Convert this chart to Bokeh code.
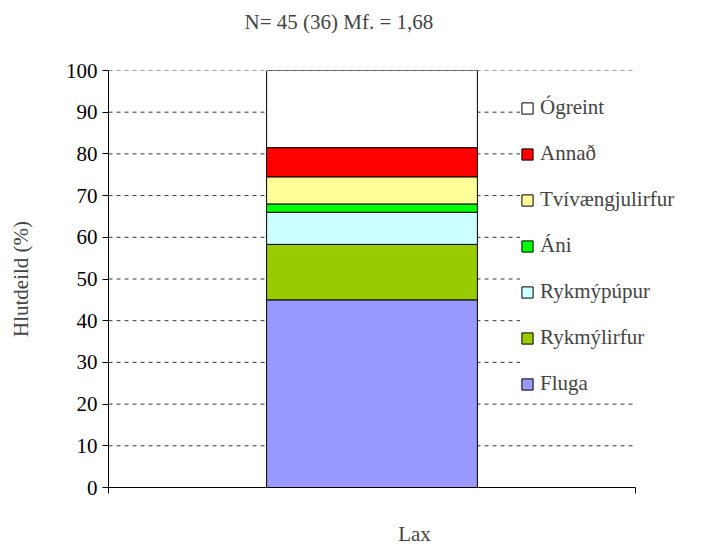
from bokeh.plotting import figure
from bokeh.models import Legend, LegendItem, FixedTicker, Title
from bokeh.embed import file_html
from bokeh.resources import INLINE

species = ["Lax"]
groups = ["Fluga", "Rykmýlirfur", "Rykmýpúpur", "Áni", "Tvívængjulirfur", "Annað", "Ógreint"]
shares = [45.0, 13.3, 7.7, 2.0, 6.5, 7.0, 18.5]
colors = ["#9999FF", "#99CC00", "#CCFFFF", "#00FF00", "#FFFF99", "#FF0000", "#FFFFFF"]
y_ticks = list(range(0, 101, 10))

FONT = "Liberation Serif"
FS = "21px"

# frame runs to the right edge so the legend is not clipped; data x=1 sits at the axis end
p = figure(width=720, height=548, x_range=(0, 612 / 527), y_range=(0, 100),
           output_backend="svg", toolbar_location=None,
           min_border_left=108, min_border_right=0, min_border_top=70, min_border_bottom=55)
p.outline_line_color = None
p.grid.visible = False

# dashed gridlines only across the axis width
p.segment(x0=[0] * len(y_ticks), x1=[1] * len(y_ticks), y0=y_ticks, y1=y_ticks,
          line_color="black", line_dash="4 4", line_width=0.8)

renderers = []
bottom = 0
for name, v, c in zip(groups, shares, colors):
    r = p.vbar(x=[0.5], bottom=[bottom], top=[bottom + v], width=0.4,
               fill_color=c, line_color="black", line_width=1)
    renderers.append((name, r))
    bottom += v

p.yaxis.ticker = FixedTicker(ticks=y_ticks)
p.yaxis.axis_label = "Hlutdeild (%)"
p.yaxis.axis_label_standoff = 30
p.xaxis.ticker = FixedTicker(ticks=[0, 1])
p.xaxis.bounds = (0, 1)
p.xaxis.axis_label = species[0]
for ax in (p.xaxis[0], p.yaxis[0]):
    ax.axis_line_color = "black"
    ax.major_tick_in = 0
    ax.major_tick_out = 6
    ax.minor_tick_line_color = None
    ax.major_label_text_font = FONT
    ax.major_label_text_font_size = FS
    ax.axis_label_text_font = FONT
    ax.axis_label_text_font_size = FS
    ax.axis_label_text_font_style = "normal"
    ax.major_label_text_color = "black"
p.xaxis.major_label_text_color = None
p.xaxis.major_label_text_font_size = "1px"
p.xaxis.axis_label_standoff = 28

legend = Legend(items=[LegendItem(label=n, renderers=[r]) for n, r in reversed(renderers)],
                location=(412, 91), border_line_color=None, background_fill_color="white",
                background_fill_alpha=1, label_text_font=FONT, label_text_font_size=FS,
                glyph_width=14, glyph_height=14, spacing=21, padding=8, label_standoff=6)
p.add_layout(legend, "center")

# blank spacer title next to the frame pushes the real title up
p.add_layout(Title(text=" ", text_font=FONT, text_font_size="18px"), "above")
p.add_layout(Title(text="N= 45 (36) Mf. = 1,68", align="left", offset=136,
                   text_font=FONT, text_font_size=FS, text_font_style="normal"), "above")

open("out.html", "w").write(file_html(p, INLINE))
